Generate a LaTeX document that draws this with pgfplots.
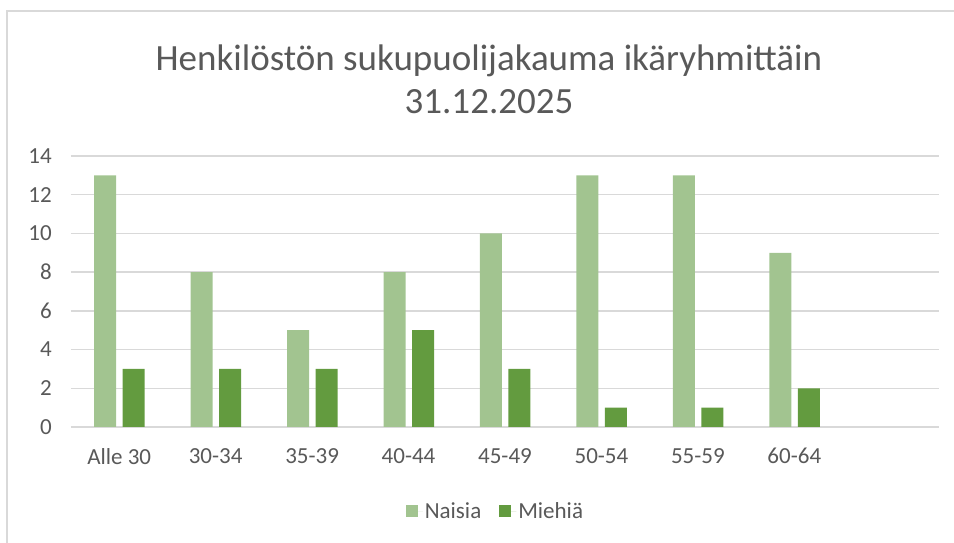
\documentclass[border=0pt]{standalone}
\usepackage{pgfplots}
\pgfplotsset{compat=1.18}
\usepackage{fontspec}
\setmainfont{Carlito}
\definecolor{naiset}{RGB}{162,196,144}
\definecolor{miehet}{RGB}{99,155,63}
\definecolor{gridgray}{RGB}{217,217,217}
\definecolor{txt}{RGB}{89,89,89}
\begin{document}
\begin{tikzpicture}
  \path[use as bounding box] (0,0) rectangle (954pt,543pt);
  % chart frame (only top and left edges visible)
  \draw[gridgray, line width=1.5pt] (7pt,0pt) -- (7pt,532pt) -- (954pt,532pt);
  \node[anchor=base, text=txt, font=\fontsize{37}{44}\selectfont] at (489pt,472pt) {Henkilöstön sukupuolijakauma ikäryhmittäin};
  \node[anchor=base, text=txt, font=\fontsize{37}{44}\selectfont] at (489pt,429pt) {31.12.2025};
  \begin{axis}[
      at={(71pt,116pt)}, anchor=south west,
      scale only axis,
      width=868pt, height=271pt,
      ybar, bar width=22pt,
      xmin=-0.5, xmax=8.5,
      ymin=0, ymax=14,
      xtick={0,...,7},
      xticklabels={Alle 30,30-34,35-39,40-44,45-49,50-54,55-59,60-64},
      ytick={0,2,...,14},
      ymajorgrids,
      grid style={gridgray, line width=1.5pt},
      axis line style={draw=none},
      tick style={draw=none},
      major tick length=0pt,
      /pgf/number format/assume math mode=true,
      ticklabel style={text=txt, font=\fontsize{23}{27}\selectfont},
      yticklabel style={inner sep=0pt, xshift=-19pt},
      xticklabel style={inner sep=0pt, yshift=-21pt},
      legend style={at={(0.489,-0.31)}, anchor=center, draw=none,
        legend columns=2, font=\fontsize{23}{27}\selectfont, text=txt,
        /tikz/every even column/.append style={column sep=16pt}},
      legend image code/.code={\fill[#1] (0pt,-6pt) rectangle (12pt,6pt);
        \path (0pt,0pt) -- (17pt,0pt);},
    ]
    \addplot[fill=naiset, draw=none, bar shift=-14pt] coordinates {
      (0,13) (1,8) (2,5) (3,8) (4,10) (5,13) (6,13) (7,9)};
    \addplot[fill=miehet, draw=none, bar shift=14.5pt] coordinates {
      (0,3) (1,3) (2,3) (3,5) (4,3) (5,1) (6,1) (7,2)};
    \legend{Naisia, Miehiä}
  \end{axis}
\end{tikzpicture}
\end{document}
